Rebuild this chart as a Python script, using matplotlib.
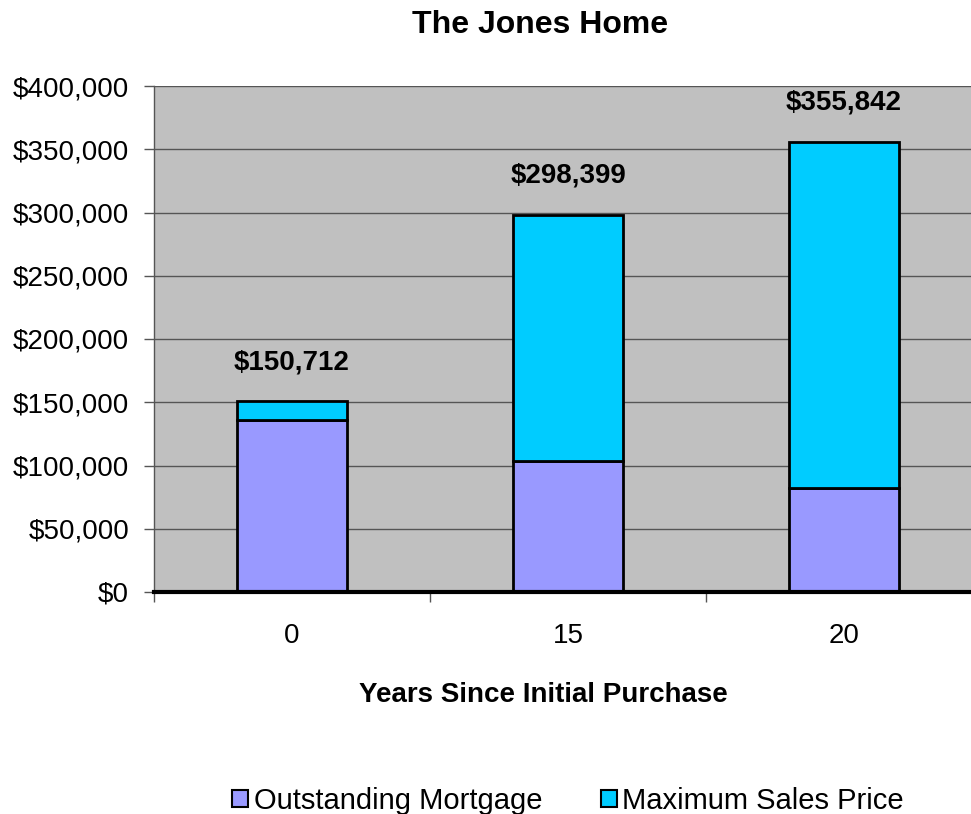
import matplotlib
matplotlib.use("Agg")
import matplotlib.pyplot as plt
from matplotlib.ticker import FuncFormatter, MultipleLocator
from matplotlib.patches import Patch

categories = ["0", "15", "20"]
mortgage = [136000, 103500, 82400]
totals = [150712, 298399, 355842]
sales_extra = [t - m for t, m in zip(totals, mortgage)]
total_labels = ["$150,712", "$298,399", "$355,842"]

plt.rcParams['font.family'] = ['Liberation Sans', 'DejaVu Sans']

W, H = 971, 814
fig = plt.figure(figsize=(W/100, H/100), dpi=100)
left, right, top, bottom = 154, 982, 86, 592
ax = fig.add_axes([left/W, 1-bottom/H, (right-left)/W, (bottom-top)/H])
ax.set_facecolor('#C0C0C0')

x = list(range(len(categories)))
ax.bar(x, mortgage, width=0.4, color='#9999FF', edgecolor='black', linewidth=2, zorder=3)
ax.bar(x, sales_extra, bottom=mortgage, width=0.4, color='#00CCFF', edgecolor='black', linewidth=2, zorder=3)

for xi, t, lab in zip(x, totals, total_labels):
    ax.annotate(lab, (xi, t), xytext=(0, 23), textcoords='offset points',
                ha='center', va='baseline', fontsize=20, fontweight='bold')

ax.set_xlim(-0.5, 2.5)
ax.set_ylim(0, 400000)
ax.yaxis.set_major_locator(MultipleLocator(50000))
ax.yaxis.set_major_formatter(FuncFormatter(lambda v, p: f"${v:,.0f}"))
ax.grid(axis='y', color='#555555', linewidth=1, zorder=1)
ax.set_axisbelow(True)

ax.set_xticks(x)
ax.set_xticklabels(categories)
ax.set_xticks([-0.5, 0.5, 1.5, 2.5], minor=True)
ax.tick_params(axis='x', which='major', length=0, pad=22, labelsize=20)
ax.tick_params(axis='x', which='minor', length=7, width=1, color='#555555', direction='out')
ax.tick_params(axis='y', length=7, width=1, color='#555555', direction='out', labelsize=20, pad=11)

for s in ['top', 'right']:
    ax.spines[s].set_visible(False)
ax.spines['left'].set_color('#555555')
ax.spines['left'].set_linewidth(1)
ax.spines['bottom'].set_color('black')
ax.spines['bottom'].set_linewidth(3)
ax.spines['bottom'].set_zorder(4)

fig.text(540/W, 1-25/H, "The Jones Home", ha='center', va='center', fontsize=23, fontweight='bold')
fig.text(543/W, 1-695/H, "Years Since Initial Purchase", ha='center', va='center', fontsize=20, fontweight='bold')

handles = [Patch(facecolor='#9999FF', edgecolor='black', linewidth=1.5, label='Outstanding Mortgage'),
           Patch(facecolor='#00CCFF', edgecolor='black', linewidth=1.5, label='Maximum Sales Price')]
fig.legend(handles=handles, loc='center', bbox_to_anchor=(568/W, 1-801/H), ncol=2, frameon=False,
           fontsize=21, handlelength=0.55, handleheight=0.55, handletextpad=0.2, columnspacing=2.0,
           borderpad=0, borderaxespad=0)

fig.savefig("out.png", dpi=100)
